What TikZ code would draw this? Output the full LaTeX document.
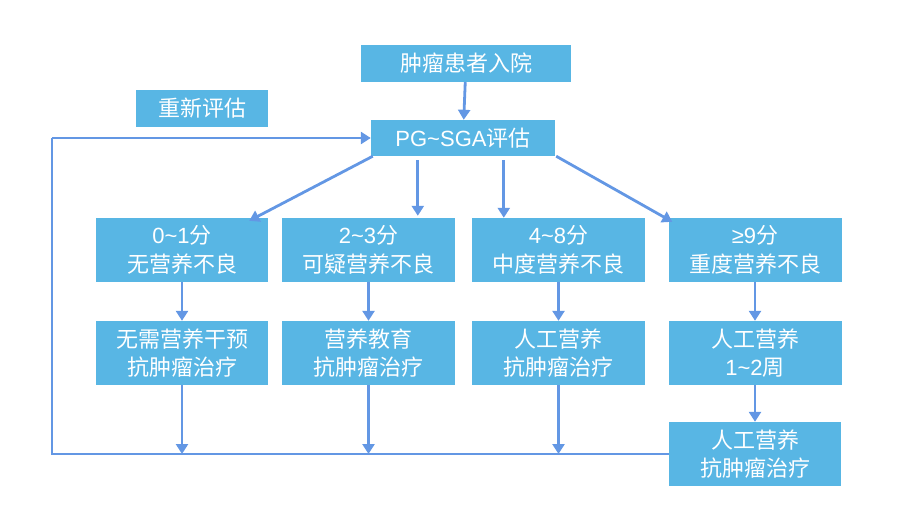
\documentclass[tikz,border=0pt]{standalone}
\usepackage{fontspec}
\setmainfont{Liberation Sans}
\newfontfamily\cjk{Noto Sans CJK SC}
\usetikzlibrary{arrows.meta}
\definecolor{boxblue}{RGB}{88,182,228}
\definecolor{arrblue}{RGB}{99,151,228}
\tikzset{
  box/.style={fill=boxblue, text=white, inner sep=0pt, align=center,
    font=\fontsize{22}{28.5}\selectfont},
  arr/.style={draw=arrblue, line width=2.8pt, -{Triangle[width=12pt,length=10pt]}},
  ln/.style={draw=arrblue, line width=2.8pt}
}
\begin{document}
\begin{tikzpicture}[x=1pt,y=-1pt]
\useasboundingbox (0,0) rectangle (897,530);
\node[box, minimum width=210pt, minimum height=37pt] (top) at (466,63.5) {\cjk 肿瘤患者入院};
\node[box, minimum width=132pt, minimum height=37pt] (re) at (202,108.5) {\cjk 重新评估};
\node[box, minimum width=184pt, minimum height=36pt] (pg) at (463,138) {PG\textasciitilde SGA{\cjk 评估}};
% row 1
\node[box, minimum width=172pt, minimum height=64pt] (a1) at (182,250) {0\textasciitilde 1{\cjk 分}\\{\cjk 无营养不良}};
\node[box, minimum width=173pt, minimum height=64pt] (b1) at (368.5,250) {2\textasciitilde 3{\cjk 分}\\{\cjk 可疑营养不良}};
\node[box, minimum width=173pt, minimum height=64pt] (c1) at (558.5,250) {4\textasciitilde 8{\cjk 分}\\{\cjk 中度营养不良}};
\node[box, minimum width=173pt, minimum height=64pt] (d1) at (755,250) {≥9{\cjk 分}\\{\cjk 重度营养不良}};
% row 2
\node[box, minimum width=172pt, minimum height=64pt] (a2) at (182,353) {\cjk 无需营养干预\\\cjk 抗肿瘤治疗};
\node[box, minimum width=173pt, minimum height=64pt] (b2) at (368.5,353) {\cjk 营养教育\\\cjk 抗肿瘤治疗};
\node[box, minimum width=173pt, minimum height=64pt] (c2) at (558.5,353) {\cjk 人工营养\\\cjk 抗肿瘤治疗};
\node[box, minimum width=173pt, minimum height=64pt] (d2) at (755,353) {{\cjk 人工营养}\\1\textasciitilde 2{\cjk 周}};
% row 3
\node[box, minimum width=172pt, minimum height=64pt] (d3) at (755,454) {\cjk 人工营养\\\cjk 抗肿瘤治疗};
% loop corners
\coordinate (L1) at (52,454);
\coordinate (L2) at (52,138);
% arrows
\draw[arr] (top) -- (pg);
\draw[arr] ([xshift=2pt]pg.south west) -- ([xshift=-19pt,yshift=-3pt]a1.north east);
\draw[arr, shorten <=4pt, shorten >=2pt] ([xshift=47pt]pg.south west) -- ([xshift=47pt]pg.south west |- b1.north);
\draw[arr, shorten <=4pt, shorten >=0pt] ([xshift=133pt]pg.south west) -- ([xshift=133pt]pg.south west |- c1.north);
\draw[arr] ([xshift=1pt]pg.south east) -- ([xshift=4pt,yshift=-4pt]d1.north west);
\draw[arr] (a1) -- (a2);
\draw[arr] (b1) -- (b2);
\draw[arr] (c1) -- (c2);
\draw[arr] (d1) -- (d2);
\draw[arr] (d2) -- (d3);
\draw[ln] (d3.west) -- (L1) -- (L2);
\draw[arr] (L2) -- (pg.west);
\draw[arr] (a2.south) -- (a2.south |- L1);
\draw[arr] (b2.south) -- (b2.south |- L1);
\draw[arr] (c2.south) -- (c2.south |- L1);
\end{tikzpicture}
\end{document}
